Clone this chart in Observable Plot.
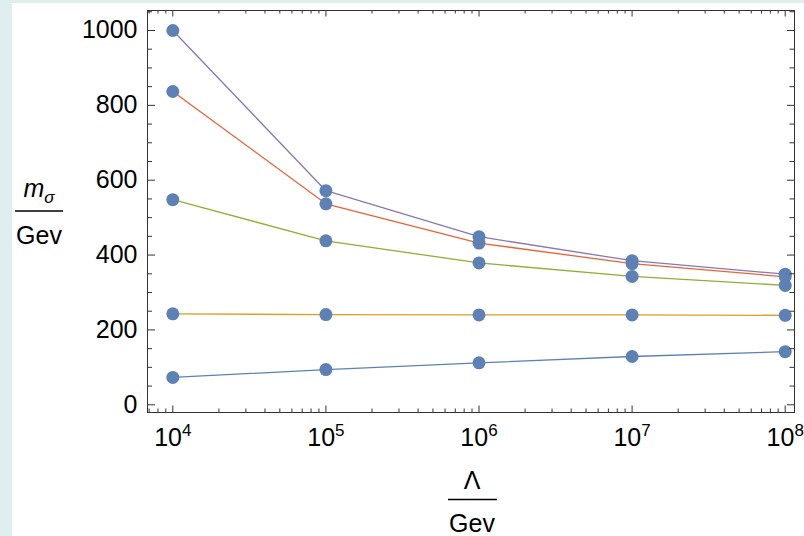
<!DOCTYPE html>
<html>
<head>
<meta charset="utf-8">
<script src="https://cdn.jsdelivr.net/npm/d3@7"></script>
<script src="https://cdn.jsdelivr.net/npm/@observablehq/plot@0.6"></script>
<style>
  html, body { margin: 0; padding: 0; background: #dfeeee; }
  #wrap { position: relative; width: 804px; height: 536px; overflow: hidden; }
  #paper { position: absolute; left: 12px; top: 3px; right: 0; bottom: 0; background: #ffffff; }
  #chart { position: absolute; left: 0; top: 0; }
  #chart svg { display: block; }
</style>
</head>
<body>
<div id="wrap"><div id="paper"></div><div id="chart"></div></div>
<script>
// ---- data ----
const lambdaValues = [1e4, 1e5, 1e6, 1e7, 1e8];
const series1 = [73, 94, 112, 129, 142];      // blue
const series2 = [243, 241, 240, 240, 239];    // orange
const series3 = [548, 438, 379, 343, 319];    // green
const series4 = [837, 537, 432, 377, 342];    // red
const series5 = [1000, 572, 449, 385, 349];   // purple
const seriesColors = ["#5E81B5", "#E19C24", "#8FB032", "#EB6235", "#8778B3"];
const yTickLabels = [0, 200, 400, 600, 800, 1000];
const xTickLabels = [1e4, 1e5, 1e6, 1e7, 1e8];

const allSeries = [series1, series2, series3, series4, series5];
const lineData = allSeries.flatMap((s, i) => s.map((v, j) => ({x: lambdaValues[j], y: v, k: i})));

// minor ticks
const yMinor = d3.range(-0, 1051, 50).filter(v => v % 200 !== 0);
const xMinor = [];
for (let e = 3; e <= 8; e++) for (let m = 2; m <= 9; m++) xMinor.push(m * 10 ** e);

const W = 804, H = 536;
const mL = 147, mR = 10, mT = 10, mB = 124;
const PW = W - mL - mR, PH = H - mT - mB;
const frameColor = "#333333";

const chart = Plot.plot({
  width: W, height: H,
  marginLeft: mL, marginRight: mR, marginTop: mT, marginBottom: mB,
  x: {type: "log", domain: [10 ** 3.8347, 10 ** 8.0607], label: null},
  y: {domain: [-20.6, 1053.4], label: null},
  style: {background: "transparent", fontFamily: "'Liberation Sans', Arial, sans-serif", color: "black"},
  marks: [
    ...allSeries.map((s, i) => Plot.line(lineData.filter(d => d.k === i), {x: "x", y: "y", stroke: seriesColors[i], strokeWidth: 1.3})),
    Plot.dot(lineData, {x: "x", y: "y", r: 6.5, fill: "#5E81B5", stroke: "none"}),
    // left ticks
    Plot.ruleY(yTickLabels, {y: d => d, insetRight: PW - 8, stroke: frameColor}),
    Plot.ruleY(yMinor, {y: d => d, insetRight: PW - 5, stroke: frameColor}),
    // right ticks
    Plot.ruleY(yTickLabels, {y: d => d, insetLeft: PW - 7, stroke: frameColor}),
    Plot.ruleY(yMinor, {y: d => d, insetLeft: PW - 4.5, stroke: frameColor}),
    // bottom ticks
    Plot.ruleX(xTickLabels, {x: d => d, insetTop: PH - 6.5, stroke: frameColor}),
    Plot.ruleX(xMinor.filter(v => v > 10 ** 3.8347 && v < 10 ** 8.0607), {x: d => d, insetTop: PH - 3.5, stroke: frameColor}),
    // top ticks
    Plot.ruleX(xTickLabels, {x: d => d, insetBottom: PH - 6.5, stroke: frameColor}),
    Plot.ruleX(xMinor.filter(v => v > 10 ** 3.8347 && v < 10 ** 8.0607), {x: d => d, insetBottom: PH - 3.5, stroke: frameColor}),
    Plot.frame({stroke: frameColor, strokeWidth: 1}),
    Plot.axisY({ticks: yTickLabels, tickSize: 0, tickPadding: 10, fontSize: 25, fill: "black", label: null, tickFormat: d => String(d)}),
    Plot.axisX({ticks: xTickLabels, tickSize: 0, tickPadding: 16, fontSize: 25, fill: "black", label: null, tickFormat: d => "10^" + Math.round(Math.log10(d))})
  ]
});
document.getElementById("chart").appendChild(chart);

// superscript exponents on x tick labels
const svg = d3.select(chart);
svg.selectAll('g[aria-label="x-axis tick label"] text').each(function() {
  const t = this.textContent;
  const parts = t.split("^");
  if (parts.length === 2) {
    this.textContent = parts[0];
    const ts = document.createElementNS("http://www.w3.org/2000/svg", "tspan");
    ts.setAttribute("dy", "-10");
    ts.setAttribute("font-size", "17");
    ts.textContent = parts[1];
    this.appendChild(ts);
  }
});

// axis labels as fractions
const font = "'Liberation Sans', Arial, sans-serif";
const yl = svg.append("g").attr("font-family", font).attr("fill", "black");
const ym = yl.append("text").attr("x", 39).attr("y", 197).attr("text-anchor", "middle").attr("font-size", 25);
ym.append("tspan").attr("font-style", "italic").text("m");
ym.append("tspan").attr("font-style", "italic").attr("font-size", 17).attr("dy", 6).text("σ");
yl.append("line").attr("x1", 15).attr("x2", 63).attr("y1", 211).attr("y2", 211).attr("stroke", "black").attr("stroke-width", 1.3);
yl.append("text").attr("x", 39).attr("y", 244).attr("text-anchor", "middle").attr("font-size", 25).text("Gev");

const xl = svg.append("g").attr("font-family", font).attr("fill", "black");
xl.append("text").attr("x", 472).attr("y", 489).attr("text-anchor", "middle").attr("font-size", 25).text("Λ");
xl.append("line").attr("x1", 448).attr("x2", 497).attr("y1", 499.5).attr("y2", 499.5).attr("stroke", "black").attr("stroke-width", 1.3);
xl.append("text").attr("x", 472).attr("y", 532).attr("text-anchor", "middle").attr("font-size", 25).text("Gev");
</script>
</body>
</html>
